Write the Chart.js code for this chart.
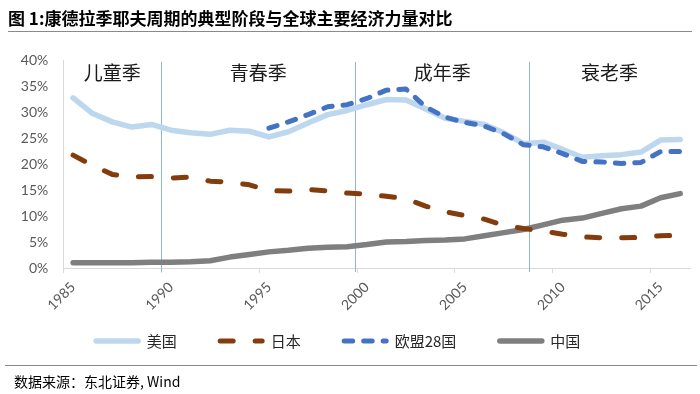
<!DOCTYPE html>
<html><head><meta charset="utf-8">
<script src="https://cdn.jsdelivr.net/npm/chart.js@4.4.1/dist/chart.umd.min.js"></script>
<style>
html,body{margin:0;padding:0;background:#fff;width:700px;height:394px;overflow:hidden}
#wrap{position:relative;width:700px;height:394px}
#c{position:absolute;left:0;top:0}
#title{position:absolute;left:8px;top:5px;line-height:22px;font:bold 17px "Noto Sans CJK SC";color:#000;white-space:nowrap}
#rule1{position:absolute;left:8px;top:31px;width:684px;height:0;border-top:1.5px solid #8a8a8a}
#rule2{position:absolute;left:5px;top:365px;width:692px;height:0;border-top:1.5px solid #8a8a8a}
#source{position:absolute;left:14px;top:371px;line-height:20px;font:14px "Noto Sans CJK SC";color:#000;white-space:nowrap}
</style></head>
<body><div id="wrap">
<canvas id="c" width="700" height="394"></canvas>
<div id="title">图 1:康德拉季耶夫周期的典型阶段与全球主要经济力量对比</div>
<div id="rule1"></div>
<div id="rule2"></div>
<div id="source">数据来源：东北证券, Wind</div>
</div>
<script>
const years = [1985,1986,1987,1988,1989,1990,1991,1992,1993,1994,1995,1996,1997,1998,1999,2000,
               2001,2002,2003,2004,2005,2006,2007,2008,2009,2010,2011,2012,2013,2014,2015,2016];
const usa   = [32.7,29.7,28.1,27.1,27.6,26.5,26.0,25.7,26.5,26.3,25.2,26.2,27.9,29.5,30.3,31.4,
               32.4,32.3,30.6,28.8,28.2,27.6,26.0,23.9,24.2,22.8,21.3,21.6,21.8,22.3,24.6,24.7];
const japan = [21.7,19.7,18.0,17.5,17.6,17.3,17.5,16.7,16.5,16.0,14.9,14.8,15.1,14.8,14.4,14.2,
               13.8,13.3,11.9,10.8,10.1,9.4,8.2,7.6,7.1,6.5,6.0,5.8,5.8,5.9,6.2,6.3];
const eu28  = [null,null,null,null,null,null,null,null,null,null,26.9,28.1,29.5,31.0,31.4,32.6,
               34.2,34.4,31.0,29.0,28.0,27.3,25.8,23.7,23.3,22.0,20.5,20.4,20.1,20.3,22.4,22.4];
const china = [1.0,1.0,1.0,1.0,1.1,1.1,1.2,1.4,2.1,2.6,3.1,3.4,3.8,4.0,4.1,4.5,
               5.0,5.1,5.3,5.4,5.6,6.2,6.8,7.4,8.3,9.2,9.6,10.5,11.4,11.9,13.5,14.3];
const seriesNames = ['美国','日本','欧盟28国','中国'];
const phaseNames = ['儿童季','青春季','成年季','衰老季'];
const phaseBounds = [1989.5, 1999.42, 2008.28];
const yMax = 40, yStep = 5;

const LEGEND_CENTER_X = 337, LEGEND_Y = 341;

const phasePlugin = {
  id: 'phases',
  beforeDatasetsDraw(chart) {
    const {ctx, chartArea, scales: {x}} = chart;
    ctx.save();
    ctx.strokeStyle = '#8db4e2';
    ctx.lineWidth = 1;
    phaseBounds.forEach(b => {
      const px = Math.round(x.getPixelForValue(b - years[0])) + 0.5;
      ctx.beginPath();
      ctx.moveTo(px, chartArea.top + 2);
      ctx.lineTo(px, chartArea.bottom + 4);
      ctx.stroke();
    });
    ctx.restore();
  },
  afterDraw(chart) {
    const {ctx, chartArea, scales: {x}} = chart;
    const edges = [chartArea.left].concat(phaseBounds.map(b => x.getPixelForValue(b - years[0])), [chartArea.right]);
    ctx.save();
    ctx.font = '19px "Noto Sans CJK SC"';
    ctx.fillStyle = '#1a1a1a';
    ctx.textAlign = 'center';
    ctx.textBaseline = 'middle';
    phaseNames.forEach((n, i) => {
      ctx.fillText(n, (edges[i] + edges[i + 1]) / 2, chartArea.top + 13);
    });
    ctx.restore();
  }
};

const legendPlugin = {
  id: 'lineLegend',
  afterDraw(chart) {
    const ctx = chart.ctx;
    const ds = chart.data.datasets;
    const sw = 47, gap = 6, itemGap = 41;
    ctx.save();
    ctx.font = '15px "Noto Sans CJK SC"';
    const widths = ds.map(d => sw + gap + ctx.measureText(d.label).width);
    const total = widths.reduce((a, b) => a + b, 0) + itemGap * (ds.length - 1);
    let x0 = LEGEND_CENTER_X - total / 2;
    ds.forEach((d, i) => {
      ctx.beginPath();
      ctx.strokeStyle = d.borderColor;
      ctx.lineWidth = d.borderWidth;
      ctx.lineCap = d.borderCapStyle || 'butt';
      ctx.setLineDash(d.borderDash || []);
      ctx.moveTo(x0 + 2.5, LEGEND_Y);
      ctx.lineTo(x0 + sw - 2.5, LEGEND_Y);
      ctx.stroke();
      ctx.setLineDash([]);
      ctx.fillStyle = '#262626';
      ctx.textAlign = 'left';
      ctx.textBaseline = 'middle';
      ctx.fillText(d.label, x0 + sw + gap, LEGEND_Y);
      x0 += widths[i] + itemGap;
    });
    ctx.restore();
  }
};

new Chart(document.getElementById('c'), {
  type: 'line',
  data: {
    labels: years.map(String),
    datasets: [
      {label: seriesNames[0], data: usa, borderColor: '#bdd7ee', backgroundColor: '#bdd7ee',
       borderWidth: 5.5, borderCapStyle: 'round', borderJoinStyle: 'round', order: 2},
      {label: seriesNames[1], data: japan, borderColor: '#843c0c', backgroundColor: '#843c0c',
       borderWidth: 5, borderDash: [13, 22], borderCapStyle: 'round', borderJoinStyle: 'round', order: 1},
      {label: seriesNames[2], data: eu28, borderColor: '#4472c4', backgroundColor: '#4472c4',
       borderWidth: 5, borderDash: [8.5, 11], borderCapStyle: 'round', borderJoinStyle: 'round', order: 0},
      {label: seriesNames[3], data: china, borderColor: '#7f7f7f', backgroundColor: '#7f7f7f',
       borderWidth: 5.5, borderCapStyle: 'round', borderJoinStyle: 'round', order: 3}
    ]
  },
  options: {
    responsive: false,
    animation: false,
    devicePixelRatio: 1,
    layout: {padding: {left: 0, top: 60, right: 10, bottom: 76}},
    elements: {point: {radius: 0, hoverRadius: 0}, line: {tension: 0}},
    plugins: {
      tooltip: {enabled: false},
      legend: {display: false}
    },
    scales: {
      x: {
        offset: true,
        border: {color: '#d9d9d9', width: 1},
        grid: {
          offset: true, drawOnChartArea: false, drawTicks: true, tickLength: 5,
          tickColor: ctx => (ctx.index % 5 === 0 ? '#d9d9d9' : 'rgba(0,0,0,0)')
        },
        ticks: {
          autoSkip: false, minRotation: 45, maxRotation: 45, padding: 6,
          color: '#595959', font: {family: 'Lato', size: 14},
          callback: function(v, i) { return (years[i] - years[0]) % 5 === 0 ? String(years[i]) : ''; }
        },
        afterFit: s => { s.height = 50; }
      },
      y: {
        min: 0, max: yMax,
        border: {color: '#d9d9d9', width: 1},
        grid: {drawOnChartArea: false, drawTicks: false},
        ticks: {stepSize: yStep, padding: 15, color: '#595959', font: {family: 'Lato', size: 14},
                callback: v => v + '%'},
        afterFit: s => { s.width = 63.3; }
      }
    }
  },
  plugins: [phasePlugin, legendPlugin]
});
</script>
</body></html>
